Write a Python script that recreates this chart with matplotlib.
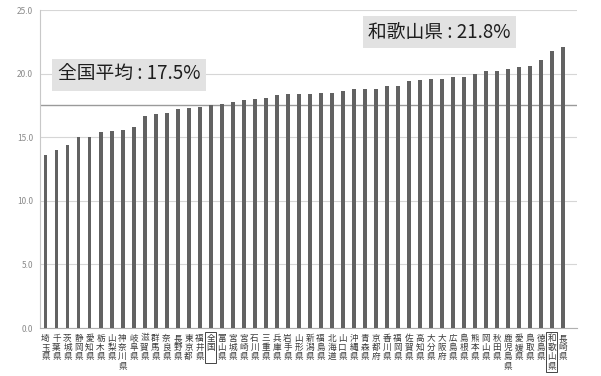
import matplotlib
matplotlib.use("Agg")
import matplotlib.pyplot as plt
from matplotlib.transforms import blended_transform_factory

plt.rcParams['font.family'] = ['Noto Sans CJK JP', 'DejaVu Sans']

# Prefectures sorted by rate (with the national figure in its place)
categories = ['埼玉県', '千葉県', '茨城県', '静岡県', '愛知県', '栃木県', '山梨県', '神奈川県',
              '岐阜県', '滋賀県', '群馬県', '奈良県', '長野県', '東京都', '福井県', '全国',
              '富山県', '宮城県', '宮崎県', '石川県', '三重県', '兵庫県', '岩手県', '山形県',
              '新潟県', '福島県', '北海道', '山口県', '沖縄県', '青森県', '京都府', '香川県',
              '福岡県', '佐賀県', '高知県', '大分県', '大阪府', '広島県', '島根県', '熊本県',
              '岡山県', '秋田県', '鹿児島県', '愛媛県', '鳥取県', '徳島県', '和歌山県', '長崎県']
rates = [13.6, 14.0, 14.4, 15.0, 15.0, 15.4, 15.5, 15.6,
         15.8, 16.7, 16.8, 16.9, 17.2, 17.3, 17.4, 17.5,
         17.6, 17.8, 17.9, 18.0, 18.1, 18.3, 18.4, 18.4,
         18.4, 18.5, 18.5, 18.6, 18.8, 18.8, 18.8, 19.0,
         19.0, 19.4, 19.5, 19.6, 19.6, 19.7, 19.7, 20.0,
         20.2, 20.2, 20.4, 20.5, 20.6, 21.1, 21.8, 22.1]
yticks = [0.0, 5.0, 10.0, 15.0, 20.0, 25.0]
national_label = '全国'
national_avg = 17.5
highlight = '和歌山県'

fig = plt.figure(figsize=(6.01, 3.76), dpi=100)
ax = fig.add_axes([40 / 601, 1 - 328 / 376, (577 - 40) / 601, (328 - 10) / 376])

x = list(range(len(categories)))
ax.bar(x, rates, width=0.36, color='#626262', zorder=3)

ax.set_ylim(0, 25)
ax.set_xlim(-0.5, len(categories) + 0.3)
ax.set_yticks(yticks)
ax.set_yticklabels([f'{v:.1f}' for v in yticks], fontsize=6, color='#8a8a8a')
ax.tick_params(axis='y', length=0, pad=5)
ax.tick_params(axis='x', length=0, labelbottom=False)
ax.grid(axis='y', color='#d6d6d6', linewidth=0.8, zorder=0)

for side in ['top', 'right']:
    ax.spines[side].set_visible(False)
ax.spines['left'].set_color('#c8c8c8')
ax.spines['bottom'].set_color('#b0b0b0')

# national average reference line
ax.axhline(national_avg, color='#9a9a9a', linewidth=1.0, zorder=2)

# vertical category labels, one character per line
trans = blended_transform_factory(ax.transData, ax.transAxes)
for i, name in enumerate(categories):
    chars = list(name)
    boxed = name in (national_label, highlight)
    if name == national_label:
        chars = chars + ['\u3000']
    ax.annotate('\n'.join(chars), xy=(i, 0), xycoords=trans,
                xytext=(0, -4), textcoords='offset points',
                ha='center', va='top', fontsize=6.2, color='#3a3a3a',
                linespacing=1.05,
                bbox=dict(boxstyle='square,pad=0.15', facecolor='none',
                          edgecolor='#444444', linewidth=0.7) if boxed else None)

# callouts
hi_idx = categories.index(highlight)
ax.text(7.6, 19.9, f'全国平均 : {national_avg}%', ha='center', va='center',
        fontsize=13.5, color='#1e1e1e', zorder=5,
        bbox=dict(boxstyle='square,pad=0.3', facecolor='#e2e2e2', edgecolor='none'))
ax.text(35.8, 23.25, f'{highlight} : {rates[hi_idx]}%', ha='center', va='center',
        fontsize=13.5, color='#1e1e1e', zorder=5,
        bbox=dict(boxstyle='square,pad=0.3', facecolor='#e2e2e2', edgecolor='none'))

fig.savefig('out.png', dpi=100, facecolor='white')
